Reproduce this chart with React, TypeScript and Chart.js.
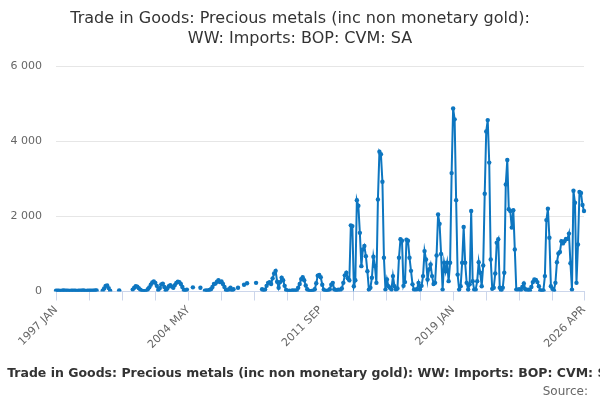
import { useEffect, useRef } from "react";
import { Chart, registerables } from "chart.js";

Chart.register(...registerables);

const SERIES_NAME =
  "Trade in Goods: Precious metals (inc non monetary gold): WW: Imports: BOP: CVM: SA";
const TITLE_LINES = [
  "Trade in Goods: Precious metals (inc non monetary gold):",
  "WW: Imports: BOP: CVM: SA",
];

const MONTHS = ["JAN", "FEB", "MAR", "APR", "MAY", "JUN", "JUL", "AUG", "SEP", "OCT", "NOV", "DEC"];
const START_YEAR = 1997;

// monthly values, one row per year (nulls are gaps in the series)
const values1997to2004 = [
  20, 18, 22, 15, 20, 25, 18, 20, 22, 16, 20, 24,
  18, 20, 15, 22, 20, 18, 25, 20, 16, 20, 22, 18,
  20, 24, 30, 25, null, null, null, 20, 80, 150, 160, 90,
  20, null, null, null, null, null, 30, null, null, null, null, null,
  null, null, null, 50, 100, 140, 130, 90, 50, 20, 10, 5,
  10, 60, 110, 180, 240, 270, 230, 150, 40, 90, 190, 210,
  120, 30, 80, 140, 170, 130, 100, 170, 230, 260, 250, 200,
  120, 40, 15, 50, null, null, null, 110, null, null, null, null,
];
const values2005to2012 = [
  100, null, null, 20, 30, 20, 40, 60, 120, 200, 210, 260,
  300, 250, 270, 200, 120, 40, 10, 60, 100, 20, 60, null,
  null, 100, null, null, null, 180, null, 220, null, null, null, null,
  null, 230, null, null, null, 60, 20, 50, 150, 230, 250, 200,
  350, 480, 550, 260, 100, 250, 370, 300, 150, 40, 10, 20,
  10, 30, 20, 30, 20, 100, 200, 330, 380, 300, 160, 60,
  20, 10, 15, 20, 60, 220, 420, 440, 380, 180, 50, 10,
  15, 30, 60, 180, 230, 60, 10, 40, 50, 40, 80, 230,
];
const values2013to2019 = [
  430, 500, 350, 300, 1760, 1740, 140, 300, 2430, 2280, 1560, 675,
  1120, 1210, 940, 540, 50, 100, 365, 925, 675, 230, 2450, 3720,
  3650, 2920, 900, 50, 320, 140, 100, 50, 410, 140, 50, 80,
  900, 1390, 1350, 150, 250, 1380, 1350, 900, 550, 190, 50, 50,
  60, 230, 50, 150, 410, 1075, 850, 320, 590, 720, 410, 200,
  230, 960, 2050, 1800, 1000, 50, 765, 540, 765, 275, 765, 3150,
  4870, 4580, 2430, 450, 50, 140, 765, 1715, 765, 230, 50, 190,
];
const values2020to2026 = [
  2140, 275, 50, 50, 275, 780, 500, 140, 690, 2600, 4260, 4560,
  3430, 850, 70, 100, 480, 1300, 1390, 100, 30, 100, 500, 2850,
  3500, 2190, 2140, 1700, 2160, 1120, 50, 50, 60, 40, 120, 215,
  60, 40, 50, 30, 120, 250, 320, 310, 250, 140, 30, 20,
  30, 410, 1900, 2200, 1430, 140, 70, 30, 230, 780, 1010, 1050,
  1340, 1280, 1340, 1400, 1400, 1540, 750, 50, 2680, 2360, 230, 1250,
  2650, 2620, 2300, 2140,
];

const values = [...values1997to2004, ...values2005to2012, ...values2013to2019, ...values2020to2026];
const labels = values.map((_, i) => `${START_YEAR + Math.floor(i / 12)} ${MONTHS[i % 12]}`);

const TICK_STEP = 22;
const LABEL_STEP = 88;
const Y_TICKS = [0, 2000, 4000, 6000];

const LINE_BLUE = "#0d76c0";
const AXIS_BLUE = "#ccd6eb";

const lastIdx = values.length - 1;
const isTick = (i: number) => (i % TICK_STEP === 0 && i < lastIdx - 10) || i === lastIdx;
const isLabel = (i: number) => i % LABEL_STEP === 0 || i === lastIdx;

const sourceNote = {
  id: "sourceNote",
  afterDraw(chart: Chart) {
    const { ctx, width } = chart;
    ctx.save();
    ctx.font = "12px 'DejaVu Sans'";
    ctx.fillStyle = "#666666";
    ctx.textAlign = "right";
    ctx.textBaseline = "alphabetic";
    ctx.fillText("Source:", width - 12, 395);
    ctx.restore();
  },
};

const App = () => {
  const chartRef = useRef<HTMLCanvasElement | null>(null);

  useEffect(() => {
    if (!chartRef.current) return;
    Chart.defaults.font.family = "'DejaVu Sans', sans-serif";

    const chartInstance = new Chart(chartRef.current, {
      type: "line",
      data: {
        labels,
        datasets: [
          {
            label: SERIES_NAME,
            data: values,
            borderColor: LINE_BLUE,
            backgroundColor: LINE_BLUE,
            borderWidth: 2,
            pointRadius: 2.2,
            pointBorderWidth: 0,
            pointBackgroundColor: LINE_BLUE,
            tension: 0,
            spanGaps: false,
            fill: false,
          },
        ],
      },
      options: {
        animation: false,
        responsive: true,
        maintainAspectRatio: false,
        layout: { padding: { top: 0, right: 0, bottom: 10, left: 0 } },
        plugins: {
          title: {
            display: true,
            text: TITLE_LINES,
            color: "#333333",
            font: { size: 16, weight: "normal", lineHeight: 1.25 },
            padding: { top: 9, bottom: 17 },
          },
          legend: {
            display: true,
            position: "bottom",
            labels: {
              color: "#333333",
              font: { size: 12.5, weight: "bold" },
              usePointStyle: true,
              pointStyle: "line",
              pointStyleWidth: 17,
              boxWidth: 12,
              boxHeight: 12,
              padding: 10,
            },
          },
          tooltip: { enabled: false },
        },
        scales: {
          x: {
            type: "category",
            afterFit: (scale) => {
              scale.height = 66;
            },
            border: { display: true, color: AXIS_BLUE, width: 1 },
            grid: {
              drawOnChartArea: false,
              drawTicks: true,
              tickLength: 9,
              color: (ctx) => (isTick(ctx.index) ? AXIS_BLUE : "rgba(0,0,0,0)"),
            },
            ticks: {
              autoSkip: false,
              maxRotation: 45,
              minRotation: 45,
              padding: 3,
              color: "#666666",
              font: { size: 11 },
              callback: (_v, i) => (isLabel(i) ? labels[i] : ""),
            },
          },
          y: {
            min: 0,
            max: 6000,
            afterFit: (scale) => {
              scale.width = 56;
            },
            afterBuildTicks: (scale) => {
              scale.ticks = Y_TICKS.map((v) => ({ value: v }));
            },
            border: { display: false },
            grid: { color: "#e6e6e6", drawTicks: false, lineWidth: 1 },
            ticks: {
              padding: 14,
              color: "#666666",
              font: { size: 11 },
              callback: (v) => String(v).replace(/\B(?=(\d{3})+(?!\d))/g, " "),
            },
          },
          // empty right-hand gutter so the title and legend stay centred on the canvas
          gutter: {
            type: "linear",
            position: "right",
            display: true,
            afterFit: (scale) => {
              scale.width = 16;
            },
            border: { display: false },
            grid: { display: false, drawTicks: false },
            ticks: { display: false },
          },
        },
      },
      plugins: [sourceNote],
    });

    return () => {
      chartInstance.destroy();
    };
  }, []);

  return (
    <div style={{ position: "fixed", left: 0, top: 0, width: 600, height: 400, background: "#ffffff" }}>
      <canvas ref={chartRef} />
    </div>
  );
};

export default App;
